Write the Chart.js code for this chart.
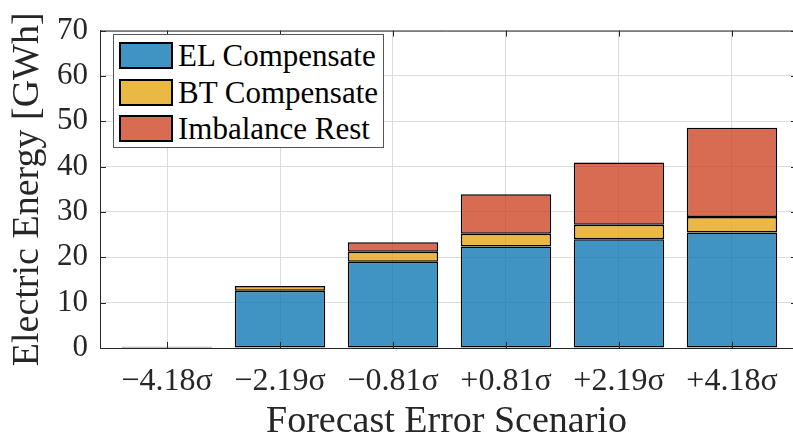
<!DOCTYPE html>
<html>
<head>
<meta charset="utf-8">
<script src="https://cdn.jsdelivr.net/npm/chart.js@4.4.1/dist/chart.umd.min.js"></script>
<style>
  html, body { margin: 0; padding: 0; background: #fff; }
  #wrap { position: relative; width: 793px; height: 441px; overflow: hidden; }
  #legend {
    position: absolute; left: 113px; top: 34px; width: 269px; height: 112px;
    border: 1px solid #555; background: #fff; box-sizing: content-box;
    font-family: "Liberation Serif", serif; font-size: 31px; color: #000;
  }
  .item { position: absolute; left: 5px; height: 30px; line-height: 30px; white-space: nowrap; }
  .sw { position: absolute; left: 0; top: 1px; width: 50px; height: 23px; border: 2px solid #000; }
  .lbl { position: absolute; left: 59px; top: 0; }
</style>
</head>
<body>
<div id="wrap">
  <canvas id="chart" width="793" height="441"></canvas>
  <div id="legend"></div>
</div>
<script>
const categories = ['\u22124.18\u03c3', '\u22122.19\u03c3', '\u22120.81\u03c3', '+0.81\u03c3', '+2.19\u03c3', '+4.18\u03c3'];
const positions = [1, 2, 3, 4, 5, 6];
const elCompensate = [0.3, 12.6, 19.0, 22.4, 24.0, 25.5];
const btCompensate = [0, 1.1, 2.2, 2.8, 3.2, 3.4];
const imbalanceRest = [0, 0, 2.1, 8.7, 13.7, 19.7];
const yTicks = [0, 10, 20, 30, 40, 50, 60, 70];

const seriesNames = ['EL Compensate', 'BT Compensate', 'Imbalance Rest'];
const seriesColors = ['rgba(15, 121, 181, 0.8)', 'rgba(230, 166, 20, 0.8)', 'rgba(206, 71, 39, 0.8)'];
const legendColors = ['#3f94c4', '#ebb843', '#d86c52'];

const axisColor = '#262626';
const gridColor = '#dcdcdc';
const serif = '"Liberation Serif", "Times New Roman", serif';

// MATLAB-style box: top edge plus inward tick marks
const boxTicks = {
  id: 'boxTicks',
  afterDraw(chart) {
    const { ctx, chartArea: a, scales: { x, y } } = chart;
    ctx.save();
    ctx.strokeStyle = axisColor;
    ctx.lineWidth = 1;
    ctx.beginPath();
    ctx.moveTo(a.left, a.top + 0.5);
    ctx.lineTo(a.right, a.top + 0.5);
    positions.forEach(v => {
      const px = Math.round(x.getPixelForValue(v)) + 0.5;
      ctx.moveTo(px, a.top); ctx.lineTo(px, a.top + 6);
      ctx.moveTo(px, a.bottom); ctx.lineTo(px, a.bottom - 6);
    });
    yTicks.forEach(v => {
      const py = Math.round(y.getPixelForValue(v)) + 0.5;
      ctx.moveTo(a.left, py); ctx.lineTo(a.left + 6, py);
      ctx.moveTo(a.right, py); ctx.lineTo(a.right - 2, py);
    });
    ctx.stroke();
    ctx.restore();
  }
};

const ctx = document.getElementById('chart');

const chart = new Chart(ctx, {
  type: 'bar',
  data: {
    labels: positions,
    datasets: [
      { label: seriesNames[0], data: elCompensate, backgroundColor: seriesColors[0] },
      { label: seriesNames[1], data: btCompensate, backgroundColor: seriesColors[1] },
      { label: seriesNames[2], data: imbalanceRest, backgroundColor: seriesColors[2] }
    ].map(d => Object.assign(d, {
      borderColor: '#000',
      borderWidth: 1.5,
      borderSkipped: false,
      categoryPercentage: 0.8,
      barPercentage: 1
    }))
  },
  options: {
    responsive: false,
    animation: false,
    layout: { padding: { top: 20, right: 0, left: 0, bottom: 0 } },
    scales: {
      x: {
        type: 'linear',
        stacked: true,
        offset: false,
        bounds: 'data',
        min: 0.407,
        max: 6.54,
        afterBuildTicks: s => { s.ticks = positions.map(v => ({ value: v })); },
        afterFit: s => { s.height = 93; },
        grid: { color: gridColor, drawTicks: false, offset: false },
        border: { color: axisColor },
        ticks: {
          color: axisColor,
          padding: 14,
          maxRotation: 0,
          autoSkip: false,
          font: { family: serif, size: 32 },
          callback: v => categories[positions.indexOf(v)]
        },
        title: {
          display: true,
          text: 'Forecast Error Scenario',
          color: axisColor,
          font: { family: serif, size: 38, lineHeight: 1 },
          padding: { top: 0, bottom: 0 }
        }
      },
      y: {
        stacked: true,
        min: 0,
        max: 70,
        afterBuildTicks: s => { s.ticks = yTicks.map(v => ({ value: v })); },
        afterFit: s => { s.width = 100; },
        grid: { color: gridColor, drawTicks: false },
        border: { color: axisColor },
        ticks: {
          color: axisColor,
          padding: 12,
          font: { family: serif, size: 31 }
        },
        title: {
          display: true,
          text: 'Electric Energy [GWh]',
          color: axisColor,
          font: { family: serif, size: 38, lineHeight: 1 },
          padding: { top: 9, bottom: 0 }
        }
      }
    },
    plugins: {
      legend: { display: false },
      tooltip: { enabled: false }
    }
  },
  plugins: [boxTicks]
});

// legend inside the axes, upper left
const legend = document.getElementById('legend');
seriesNames.forEach((name, i) => {
  const item = document.createElement('div');
  item.className = 'item';
  item.style.top = (6 + i * 36.5) + 'px';
  item.innerHTML = '<span class="sw" style="background:' + legendColors[i] + '"></span><span class="lbl">' + name + '</span>';
  legend.appendChild(item);
});
</script>
</body>
</html>
